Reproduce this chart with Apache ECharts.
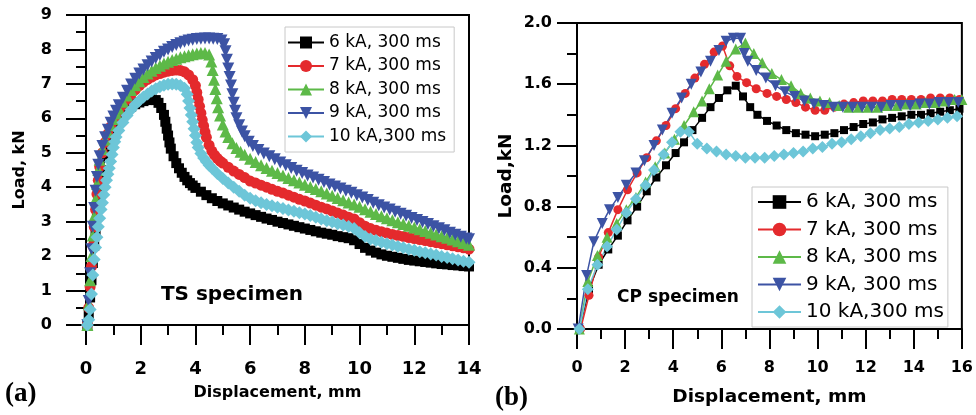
<!DOCTYPE html>
<html>
<head>
<meta charset="utf-8">
<script src="https://cdn.jsdelivr.net/npm/echarts@6/dist/echarts.min.js"></script>
<style>
  html, body { margin: 0; padding: 0; background: #fff; }
  #chart { width: 976px; height: 415px; }
</style>
</head>
<body>
<div id="chart"></div>
<script>
// Series names shared by both panels
const seriesNames = ['6 kA, 300 ms', '7 kA, 300 ms', '8 kA, 300 ms', '9 kA, 300 ms', '10 kA,300 ms'];

// (a) TS specimen: [displacement mm, load kN]
const ts6kA = [[0.05,0],[0.1,0.3],[0.15,0.8],[0.2,1.3],[0.25,1.8],[0.3,2.3],[0.35,2.75],[0.4,3.2],[0.45,3.6],[0.5,3.95],[0.55,4.25],[0.6,4.5],[0.7,4.95],[0.8,5.3],[0.9,5.55],[1.0,5.75],[1.1,5.9],[1.2,6.02],[1.35,6.15],[1.5,6.26],[1.65,6.34],[1.8,6.41],[1.95,6.46],[2.1,6.5],[2.25,6.53],[2.4,6.55],[2.55,6.53],[2.65,6.45],[2.75,6.3],[2.85,6.1],[2.9,5.9],[2.95,5.7],[3.0,5.5],[3.05,5.3],[3.1,5.12],[3.2,4.9],[3.3,4.7],[3.4,4.55],[3.5,4.42],[3.6,4.3],[3.7,4.2],[3.8,4.12],[3.9,4.05],[4.0,3.98],[4.2,3.87],[4.4,3.77],[4.6,3.68],[4.8,3.6],[5.0,3.53],[5.2,3.47],[5.4,3.41],[5.6,3.35],[5.8,3.29],[6.0,3.24],[6.2,3.19],[6.4,3.14],[6.6,3.09],[6.8,3.05],[7.0,3.0],[7.2,2.96],[7.4,2.92],[7.6,2.88],[7.8,2.84],[8.0,2.8],[8.2,2.76],[8.4,2.72],[8.6,2.68],[8.8,2.65],[9.0,2.62],[9.2,2.58],[9.4,2.55],[9.6,2.52],[9.8,2.46],[10.0,2.35],[10.2,2.24],[10.4,2.16],[10.6,2.1],[10.8,2.05],[11.0,2.01],[11.2,1.98],[11.4,1.95],[11.6,1.92],[11.8,1.89],[12.0,1.87],[12.2,1.85],[12.4,1.83],[12.6,1.81],[12.8,1.79],[13.0,1.77],[13.2,1.76],[13.4,1.74],[13.6,1.73],[13.8,1.71],[14.0,1.7]];
const ts7kA = [[0.05,0],[0.1,0.5],[0.15,1.1],[0.2,1.7],[0.25,2.3],[0.3,2.85],[0.35,3.35],[0.4,3.8],[0.45,4.2],[0.5,4.6],[0.6,5.0],[0.7,5.3],[0.8,5.55],[0.9,5.75],[1.0,5.92],[1.1,6.07],[1.2,6.2],[1.35,6.38],[1.5,6.55],[1.65,6.7],[1.8,6.83],[1.95,6.95],[2.1,7.05],[2.25,7.13],[2.4,7.2],[2.55,7.26],[2.7,7.3],[2.85,7.34],[3.0,7.37],[3.15,7.39],[3.3,7.4],[3.45,7.39],[3.6,7.35],[3.75,7.26],[3.9,7.12],[4.0,6.95],[4.05,6.75],[4.1,6.55],[4.15,6.35],[4.2,6.15],[4.25,5.95],[4.3,5.78],[4.35,5.6],[4.4,5.45],[4.5,5.22],[4.6,5.05],[4.7,4.93],[4.8,4.84],[4.9,4.76],[5.0,4.7],[5.2,4.58],[5.4,4.47],[5.6,4.37],[5.8,4.28],[6.0,4.18],[6.2,4.12],[6.4,4.06],[6.6,4.0],[6.8,3.94],[7.0,3.88],[7.2,3.83],[7.4,3.77],[7.6,3.71],[7.8,3.65],[8.0,3.6],[8.2,3.54],[8.4,3.48],[8.6,3.42],[8.8,3.37],[9.0,3.31],[9.2,3.25],[9.4,3.19],[9.6,3.13],[9.8,3.08],[10.0,2.97],[10.2,2.87],[10.4,2.8],[10.6,2.75],[10.8,2.71],[11.0,2.67],[11.2,2.63],[11.4,2.6],[11.6,2.57],[11.8,2.54],[12.0,2.51],[12.2,2.48],[12.4,2.45],[12.6,2.42],[12.8,2.39],[13.0,2.36],[13.2,2.33],[13.4,2.3],[13.6,2.27],[13.8,2.24],[14.0,2.2]];
const ts8kA = [[0.05,0],[0.1,0.6],[0.15,1.3],[0.2,2.0],[0.25,2.6],[0.3,3.15],[0.35,3.65],[0.4,4.1],[0.45,4.5],[0.5,4.8],[0.6,5.1],[0.7,5.38],[0.8,5.6],[0.9,5.8],[1.0,5.98],[1.1,6.14],[1.2,6.28],[1.35,6.48],[1.5,6.66],[1.65,6.82],[1.8,6.96],[1.95,7.08],[2.1,7.2],[2.25,7.3],[2.4,7.38],[2.55,7.46],[2.7,7.53],[2.85,7.59],[3.0,7.64],[3.15,7.69],[3.3,7.73],[3.45,7.77],[3.6,7.8],[3.75,7.83],[3.9,7.86],[4.05,7.88],[4.2,7.9],[4.35,7.9],[4.5,7.85],[4.58,7.65],[4.63,7.4],[4.68,7.12],[4.73,6.85],[4.78,6.58],[4.83,6.32],[4.9,6.08],[5.0,5.82],[5.1,5.62],[5.2,5.46],[5.35,5.28],[5.5,5.14],[5.65,5.03],[5.8,4.94],[6.0,4.83],[6.2,4.73],[6.4,4.64],[6.6,4.56],[6.8,4.48],[7.0,4.41],[7.2,4.34],[7.4,4.27],[7.6,4.2],[7.8,4.14],[8.0,4.07],[8.2,4.01],[8.4,3.95],[8.6,3.88],[8.8,3.82],[9.0,3.75],[9.2,3.69],[9.4,3.62],[9.6,3.56],[9.8,3.5],[10.0,3.43],[10.2,3.36],[10.4,3.29],[10.6,3.22],[10.8,3.16],[11.0,3.1],[11.2,3.04],[11.4,2.98],[11.6,2.93],[11.8,2.88],[12.0,2.83],[12.2,2.78],[12.4,2.73],[12.6,2.68],[12.8,2.63],[13.0,2.58],[13.2,2.53],[13.4,2.48],[13.6,2.43],[13.8,2.38],[14.0,2.33]];
const ts9kA = [[0.05,0],[0.1,0.7],[0.15,1.5],[0.2,2.2],[0.25,2.85],[0.3,3.4],[0.35,3.9],[0.4,4.3],[0.45,4.65],[0.5,4.9],[0.6,5.2],[0.7,5.45],[0.8,5.67],[0.9,5.87],[1.0,6.05],[1.1,6.22],[1.2,6.38],[1.35,6.6],[1.5,6.8],[1.65,6.98],[1.8,7.15],[1.95,7.3],[2.1,7.42],[2.25,7.54],[2.4,7.65],[2.55,7.75],[2.7,7.84],[2.85,7.93],[3.0,8.0],[3.15,8.07],[3.3,8.13],[3.45,8.18],[3.6,8.22],[3.75,8.26],[3.9,8.28],[4.05,8.3],[4.2,8.31],[4.35,8.32],[4.5,8.32],[4.65,8.31],[4.8,8.3],[4.95,8.26],[5.05,8.15],[5.1,7.95],[5.15,7.7],[5.2,7.45],[5.25,7.2],[5.3,6.95],[5.35,6.7],[5.4,6.45],[5.45,6.22],[5.5,6.0],[5.6,5.8],[5.7,5.62],[5.8,5.48],[5.95,5.32],[6.1,5.2],[6.3,5.08],[6.5,4.98],[6.7,4.9],[6.9,4.81],[7.1,4.72],[7.3,4.64],[7.5,4.56],[7.7,4.48],[7.9,4.41],[8.1,4.34],[8.3,4.28],[8.5,4.22],[8.7,4.15],[8.9,4.08],[9.1,4.02],[9.3,3.96],[9.5,3.9],[9.7,3.84],[9.9,3.77],[10.1,3.7],[10.3,3.63],[10.5,3.55],[10.7,3.48],[10.9,3.41],[11.1,3.35],[11.3,3.29],[11.5,3.23],[11.7,3.17],[11.9,3.11],[12.1,3.05],[12.3,2.99],[12.5,2.93],[12.7,2.87],[12.9,2.81],[13.1,2.75],[13.3,2.68],[13.5,2.62],[13.7,2.56],[13.9,2.51],[14.0,2.49]];
const ts10kA = [[0.05,0],[0.1,0.15],[0.15,0.45],[0.2,0.9],[0.25,1.45],[0.3,1.9],[0.35,2.25],[0.4,2.55],[0.45,2.85],[0.5,3.1],[0.55,3.35],[0.6,3.55],[0.65,3.78],[0.7,4.0],[0.75,4.2],[0.8,4.38],[0.85,4.55],[0.9,4.75],[0.95,4.95],[1.0,5.15],[1.05,5.32],[1.1,5.46],[1.2,5.65],[1.35,5.88],[1.5,6.08],[1.65,6.25],[1.8,6.4],[1.95,6.52],[2.1,6.62],[2.25,6.71],[2.4,6.79],[2.55,6.86],[2.7,6.92],[2.85,6.96],[3.0,6.99],[3.15,7.0],[3.3,6.99],[3.45,6.95],[3.6,6.87],[3.7,6.7],[3.75,6.5],[3.8,6.3],[3.85,6.1],[3.9,5.9],[3.95,5.7],[4.0,5.5],[4.05,5.3],[4.1,5.15],[4.2,4.98],[4.3,4.85],[4.4,4.74],[4.5,4.64],[4.6,4.56],[4.8,4.4],[5.0,4.25],[5.2,4.12],[5.4,4.0],[5.6,3.88],[5.8,3.77],[6.0,3.68],[6.2,3.61],[6.4,3.55],[6.6,3.5],[6.8,3.46],[7.0,3.42],[7.2,3.38],[7.4,3.34],[7.6,3.3],[7.8,3.26],[8.0,3.22],[8.2,3.18],[8.4,3.13],[8.6,3.08],[8.8,3.03],[9.0,2.99],[9.2,2.94],[9.4,2.9],[9.6,2.86],[9.8,2.8],[10.0,2.68],[10.2,2.57],[10.4,2.5],[10.6,2.45],[10.8,2.4],[11.0,2.36],[11.2,2.32],[11.4,2.28],[11.6,2.24],[11.8,2.2],[12.0,2.17],[12.2,2.13],[12.4,2.1],[12.6,2.06],[12.8,2.03],[13.0,1.99],[13.2,1.96],[13.4,1.92],[13.6,1.89],[13.8,1.85],[14.0,1.82]];

// (b) CP specimen: [displacement mm, load kN]
const cp6kA = [[0.1,0],[0.5,0.26],[0.9,0.42],[1.3,0.52],[1.7,0.61],[2.1,0.71],[2.5,0.8],[2.9,0.9],[3.3,0.99],[3.7,1.07],[4.1,1.15],[4.45,1.22],[4.8,1.3],[5.2,1.38],[5.55,1.45],[5.9,1.51],[6.25,1.56],[6.6,1.59],[6.9,1.52],[7.2,1.45],[7.5,1.4],[7.9,1.36],[8.3,1.33],[8.7,1.3],[9.1,1.28],[9.5,1.27],[9.9,1.26],[10.3,1.27],[10.7,1.28],[11.1,1.3],[11.5,1.32],[11.9,1.34],[12.3,1.35],[12.7,1.37],[13.1,1.38],[13.5,1.39],[13.9,1.4],[14.3,1.4],[14.7,1.41],[15.1,1.42],[15.5,1.43],[15.9,1.44]];
const cp7kA = [[0.15,0],[0.5,0.22],[0.9,0.47],[1.3,0.63],[1.7,0.78],[2.1,0.91],[2.5,1.02],[2.9,1.12],[3.3,1.23],[3.7,1.33],[4.1,1.44],[4.5,1.54],[4.9,1.64],[5.3,1.73],[5.7,1.81],[6.05,1.85],[6.35,1.72],[6.65,1.65],[7.05,1.61],[7.45,1.57],[7.9,1.54],[8.3,1.52],[8.7,1.5],[9.1,1.48],[9.5,1.45],[9.9,1.43],[10.3,1.43],[10.7,1.45],[11.1,1.47],[11.5,1.48],[11.9,1.49],[12.3,1.49],[12.7,1.49],[13.1,1.5],[13.5,1.5],[13.9,1.5],[14.3,1.5],[14.7,1.51],[15.1,1.51],[15.5,1.51],[15.9,1.5]];
const cp8kA = [[0.1,0],[0.45,0.31],[0.85,0.48],[1.25,0.6],[1.65,0.69],[2.05,0.78],[2.45,0.86],[2.85,0.96],[3.25,1.06],[3.65,1.15],[4.05,1.24],[4.45,1.33],[4.85,1.42],[5.2,1.49],[5.5,1.57],[5.85,1.66],[6.2,1.75],[6.6,1.83],[7.0,1.87],[7.35,1.8],[7.7,1.74],[8.1,1.67],[8.5,1.63],[8.9,1.59],[9.3,1.54],[9.7,1.51],[10.1,1.49],[10.5,1.48],[10.9,1.46],[11.3,1.45],[11.7,1.45],[12.1,1.45],[12.5,1.45],[12.9,1.46],[13.3,1.46],[13.7,1.47],[14.1,1.47],[14.5,1.48],[14.9,1.48],[15.3,1.49],[15.7,1.5],[16.0,1.5]];
const cp9kA = [[0.05,0],[0.4,0.35],[0.7,0.57],[1.05,0.69],[1.35,0.78],[1.7,0.86],[2.05,0.94],[2.45,1.02],[2.8,1.1],[3.2,1.2],[3.55,1.3],[3.95,1.41],[4.35,1.51],[4.75,1.6],[5.15,1.68],[5.55,1.75],[5.9,1.82],[6.2,1.88],[6.5,1.9],[6.8,1.9],[6.95,1.8],[7.1,1.75],[7.45,1.69],[7.85,1.64],[8.25,1.59],[8.65,1.55],[9.05,1.52],[9.45,1.49],[9.85,1.47],[10.25,1.46],[10.65,1.45],[11.05,1.45],[11.45,1.45],[11.85,1.45],[12.25,1.45],[12.65,1.45],[13.05,1.46],[13.45,1.46],[13.85,1.46],[14.25,1.47],[14.65,1.47],[15.05,1.48],[15.45,1.48],[15.85,1.48]];
const cp10kA = [[0.1,0],[0.45,0.26],[0.85,0.42],[1.25,0.54],[1.65,0.65],[2.05,0.76],[2.45,0.85],[2.85,0.94],[3.2,1.04],[3.6,1.14],[3.95,1.22],[4.3,1.29],[4.65,1.29],[5.0,1.21],[5.4,1.18],[5.8,1.16],[6.2,1.14],[6.6,1.13],[7.0,1.12],[7.4,1.12],[7.8,1.12],[8.2,1.13],[8.6,1.14],[9.0,1.15],[9.4,1.16],[9.8,1.18],[10.2,1.19],[10.6,1.21],[11.0,1.22],[11.4,1.24],[11.8,1.26],[12.2,1.28],[12.6,1.3],[13.0,1.31],[13.4,1.32],[13.8,1.34],[14.2,1.35],[14.6,1.36],[15.0,1.37],[15.4,1.38],[15.8,1.39]];

// Styling per series
const colors = ['#000000', '#e42a2d', '#5db948', '#3c53a4', '#6dc6d8'];
const symbols = ['rect', 'circle', 'triangle', 'triangle', 'diamond'];
const rotations = [0, 0, 0, 180, 0];
const tsSizes = [10, 11, 12, 12, 13];
const cpSizes = [8, 9, 11, 11, 12];

const SANS = 'DejaVu Sans';

function makeXAxis(gridIndex, max, fontSize, margin, name, nameSize, nameGap) {
  return {
    type: 'value', gridIndex: gridIndex, min: 0, max: max, interval: 2,
    name: name, nameLocation: 'middle', nameGap: nameGap,
    nameTextStyle: { fontFamily: SANS, fontWeight: 'bold', fontSize: nameSize, color: '#000' },
    axisLine: { show: true, onZero: false, lineStyle: { color: '#000', width: 2 } },
    axisTick: { show: true, inside: false, length: 20, lineStyle: { color: '#000', width: 2 } },
    minorTick: { show: true, splitNumber: 2, length: 10, lineStyle: { color: '#000', width: 2 } },
    splitLine: { show: false }, minorSplitLine: { show: false },
    axisLabel: { show: true, margin: margin, fontFamily: SANS, fontWeight: 'bold', fontSize: fontSize, color: '#000' }
  };
}

function makeYAxis(gridIndex, max, interval, fontSize, margin, digits, name, nameSize, nameGap) {
  return {
    type: 'value', gridIndex: gridIndex, min: 0, max: max, interval: interval,
    name: name, nameLocation: 'middle', nameGap: nameGap, nameRotate: 90,
    nameTextStyle: { fontFamily: SANS, fontWeight: 'bold', fontSize: nameSize, color: '#000' },
    axisLine: { show: true, onZero: false, lineStyle: { color: '#000', width: 2 } },
    axisTick: { show: true, inside: false, length: 20, lineStyle: { color: '#000', width: 2 } },
    minorTick: { show: true, splitNumber: 2, length: 10, lineStyle: { color: '#000', width: 2 } },
    splitLine: { show: false }, minorSplitLine: { show: false },
    axisLabel: {
      show: true, margin: margin, fontFamily: SANS, fontWeight: 'bold', fontSize: fontSize, color: '#000',
      formatter: function (v) { return v.toFixed(digits); }
    }
  };
}

function makeSeries(data, i, axisIndex, size, lineWidth) {
  return {
    type: 'line', name: seriesNames[i], data: data,
    xAxisIndex: axisIndex, yAxisIndex: axisIndex,
    symbol: symbols[i], symbolRotate: rotations[i], symbolSize: size,
    showAllSymbol: true, clip: true,
    color: colors[i],
    itemStyle: { color: colors[i], borderWidth: 0 },
    lineStyle: { color: colors[i], width: lineWidth },
    emphasis: { disabled: true }
  };
}

const tsData = [ts6kA, ts7kA, ts8kA, ts9kA, ts10kA];
const cpData = [cp6kA, cp7kA, cp8kA, cp9kA, cp10kA];

const series = [];
tsData.forEach(function (d, i) { series.push(makeSeries(d, i, 0, tsSizes[i], 2)); });
cpData.forEach(function (d, i) { series.push(makeSeries(d, i, 1, cpSizes[i], 1.5)); });

const legendBase = {
  data: seriesNames, orient: 'vertical', selectedMode: false,
  borderColor: '#c8c8c8', borderWidth: 1, backgroundColor: '#ffffff',
  lineStyle: { width: 2 }
};

const option = {
  animation: false,
  backgroundColor: '#ffffff',
  grid: [
    { left: 86, top: 15, width: 383, height: 310, show: true, borderColor: '#000', borderWidth: 2, backgroundColor: 'transparent' },
    { left: 577, top: 23, width: 386, height: 306, show: true, borderColor: '#000', borderWidth: 2, backgroundColor: 'transparent' }
  ],
  xAxis: [
    makeXAxis(0, 14, 18, 35, 'Displacement, mm', 16, 60),
    makeXAxis(1, 16, 16, 31, 'Displacement, mm', 18.5, 59)
  ],
  yAxis: [
    makeYAxis(0, 9, 1, 16, 34, 0, 'Load, kN', 16, 58),
    makeYAxis(1, 2, 0.4, 16, 25, 1, 'Load,kN', 18.5, 61)
  ],
  legend: [
    Object.assign({}, legendBase, {
      left: 285, top: 27, itemWidth: 36, itemHeight: 15, itemGap: 6.5, padding: [7, 8, 7, 2],
      textStyle: { fontFamily: SANS, fontSize: 17, color: '#000' }
    }),
    Object.assign({}, legendBase, {
      left: 752, top: 187, itemWidth: 43, itemHeight: 17, itemGap: 7.5, padding: [5, 4, 5, 5],
      textStyle: { fontFamily: SANS, fontSize: 20, color: '#000' }
    })
  ],
  graphic: [
    { type: 'text', x: 232, y: 295, style: { text: 'TS specimen', font: 'bold 20px "DejaVu Sans"', fill: '#000', textAlign: 'center', textVerticalAlign: 'middle', align: 'center', verticalAlign: 'middle' } },
    { type: 'text', x: 678, y: 298, style: { text: 'CP specimen', font: 'bold 17px "DejaVu Sans"', fill: '#000', textAlign: 'center', textVerticalAlign: 'middle', align: 'center', verticalAlign: 'middle' } },
    { type: 'text', x: 5, y: 394, style: { text: '(a)', font: 'bold 27px "Liberation Serif"', fill: '#000', textAlign: 'left', textVerticalAlign: 'middle', align: 'left', verticalAlign: 'middle' } },
    { type: 'text', x: 495, y: 398, style: { text: '(b)', font: 'bold 27px "Liberation Serif"', fill: '#000', textAlign: 'left', textVerticalAlign: 'middle', align: 'left', verticalAlign: 'middle' } }
  ],
  series: series
};

const chart = echarts.init(document.getElementById('chart'), null, { renderer: 'canvas' });
chart.setOption(option);
</script>
</body>
</html>
